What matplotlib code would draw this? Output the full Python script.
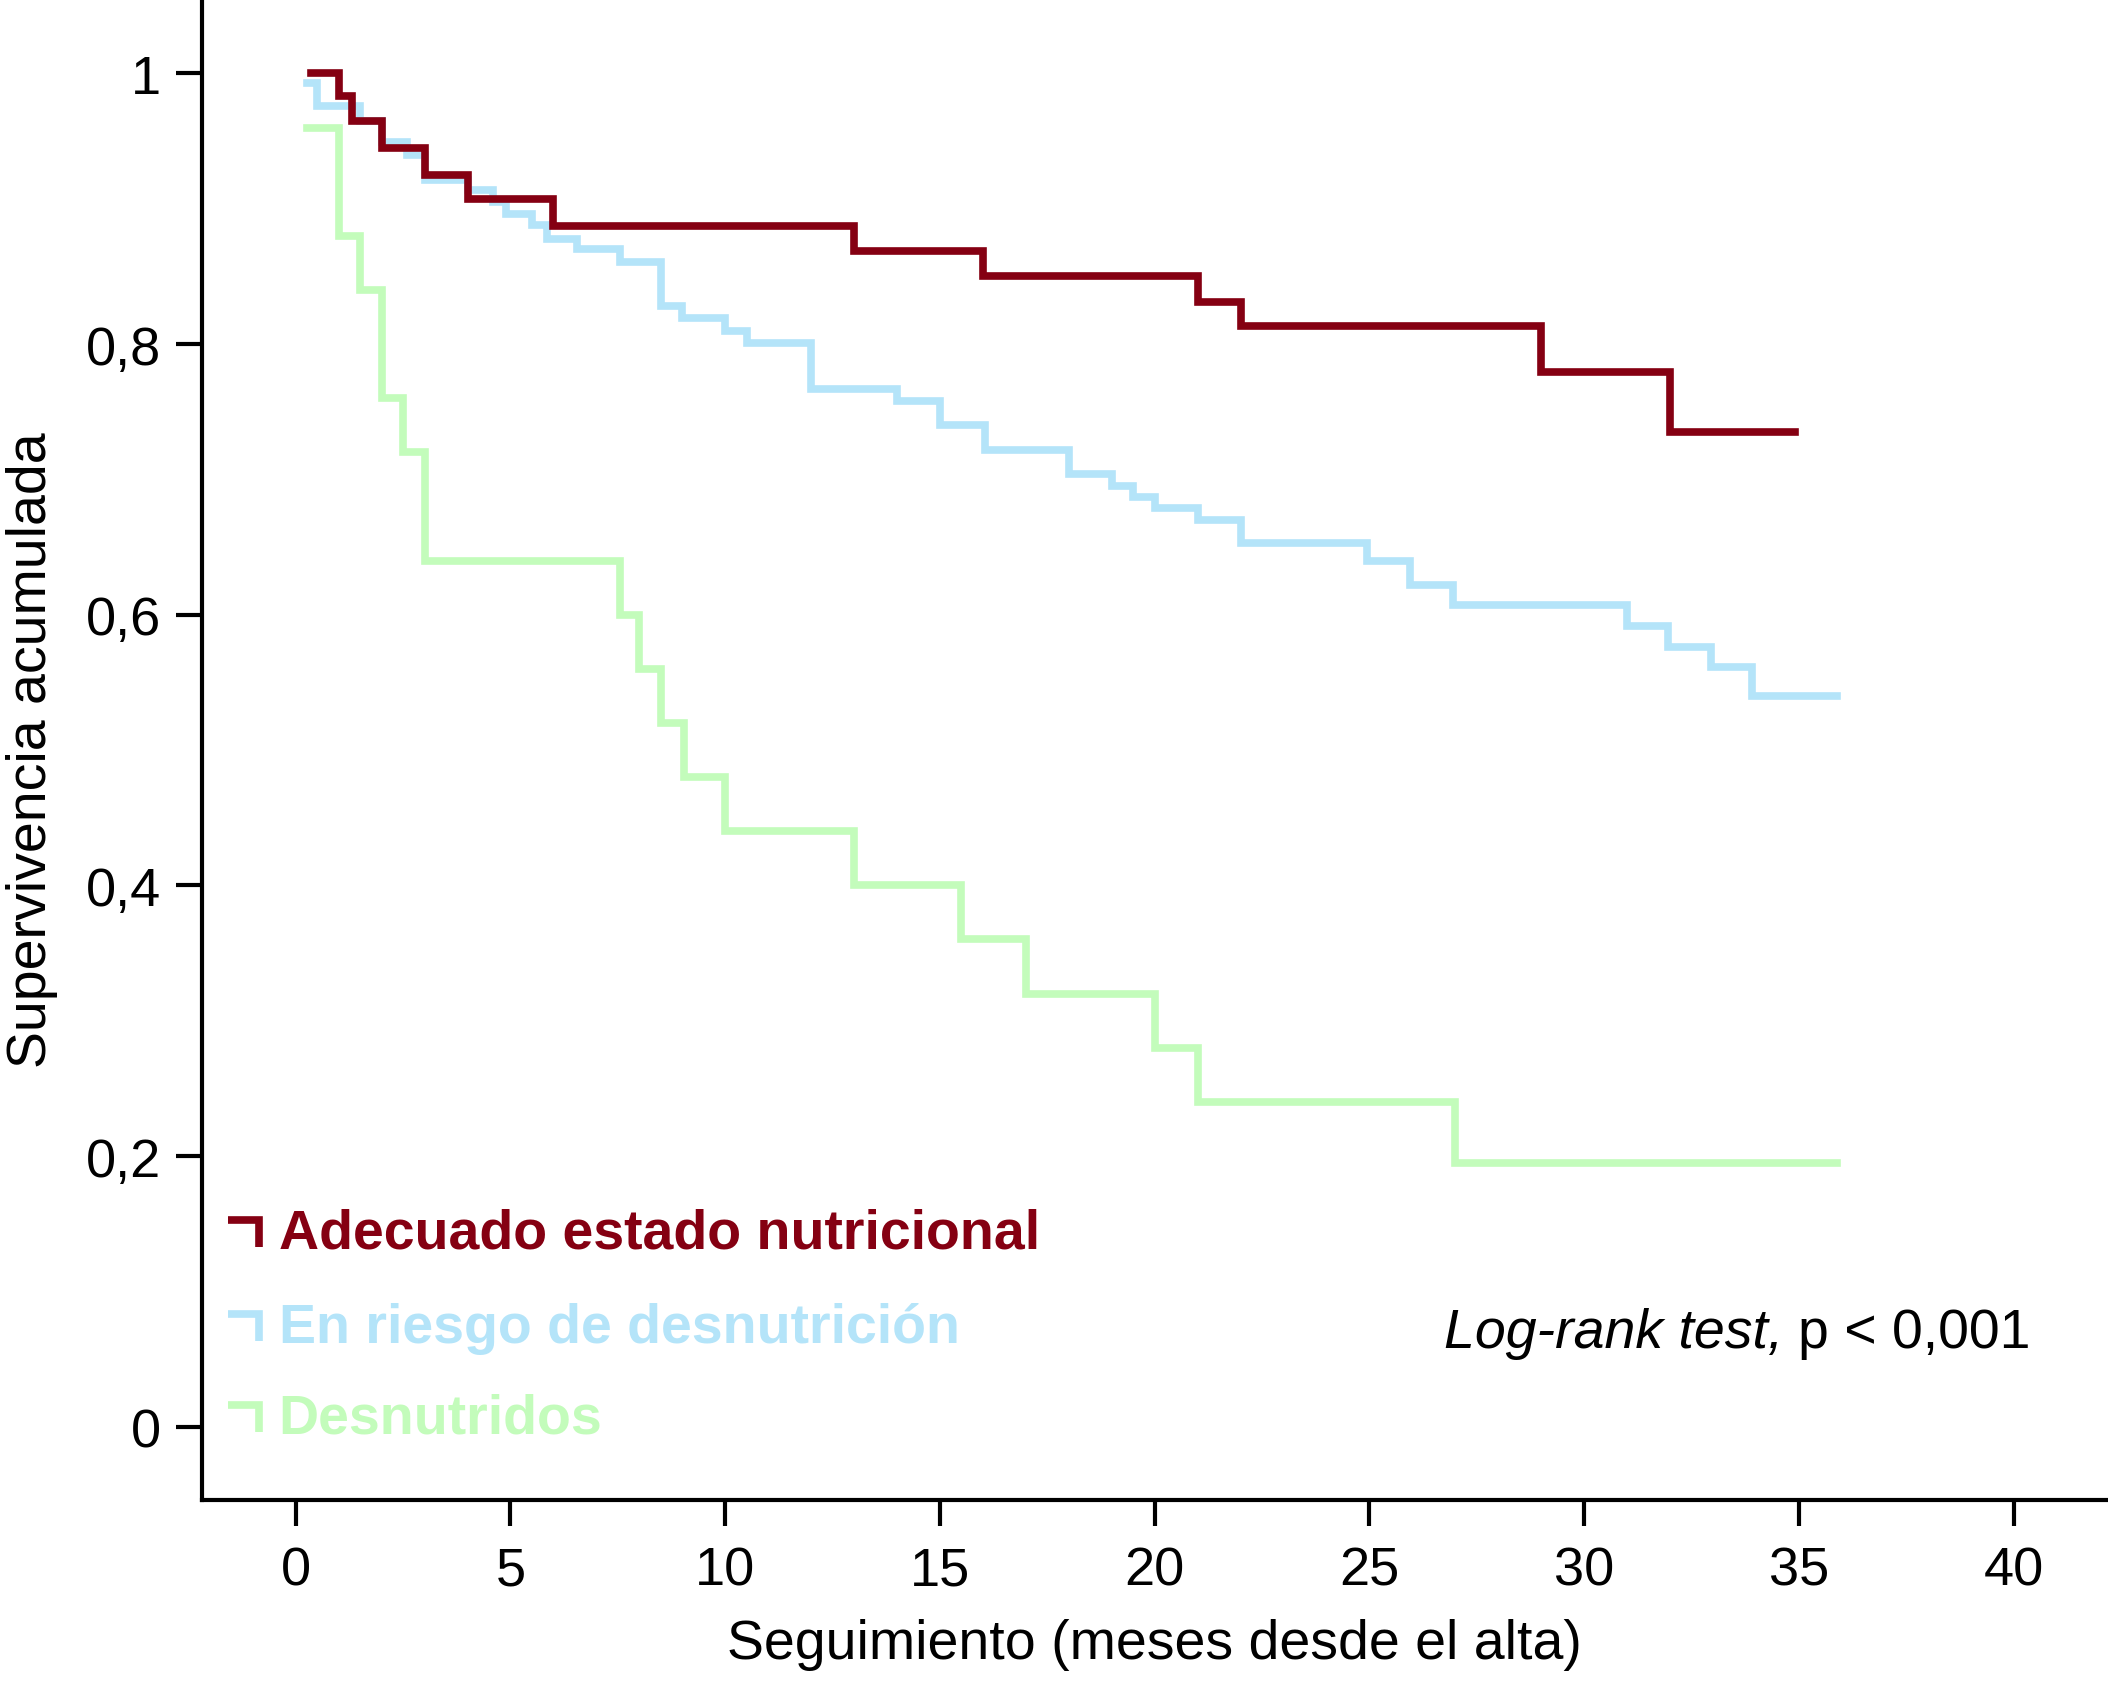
import numpy as np
import matplotlib
matplotlib.use("Agg")
import matplotlib.pyplot as plt

plt.rcParams['font.family'] = ['Liberation Sans', 'DejaVu Sans']

# Kaplan-Meier steps (time in months, cumulative survival)
t_adecuado = [0.35, 1.0, 1.3, 2.0, 3.0, 4.0, 6.0, 13.0, 16.0, 21.0, 22.0, 29.0, 32.0, 34.9]
s_adecuado = [1.0, 0.983, 0.965, 0.945, 0.925, 0.907, 0.887, 0.869, 0.850, 0.831, 0.813, 0.779, 0.735, 0.735]

t_riesgo = [0.25, 0.5, 1.5, 2.0, 2.6, 3.0, 4.0, 4.6, 4.9, 5.5, 5.85, 6.55, 7.55, 8.5, 9.0,
            10.0, 10.5, 12.0, 14.0, 15.0, 16.05, 18.0, 19.0, 19.5, 20.0, 21.0, 22.0,
            24.95, 25.95, 26.95, 31.0, 31.96, 32.96, 33.9, 35.9]
s_riesgo = [0.993, 0.976, 0.965, 0.949, 0.940, 0.921, 0.914, 0.905, 0.896, 0.888, 0.878, 0.870, 0.861, 0.828, 0.819,
            0.810, 0.801, 0.767, 0.758, 0.740, 0.722, 0.704, 0.695, 0.687, 0.679, 0.670, 0.653,
            0.640, 0.622, 0.607, 0.592, 0.576, 0.561, 0.540, 0.540]

t_desnut = [0.25, 1.0, 1.5, 2.0, 2.5, 3.0, 7.55, 8.0, 8.5, 9.05, 10.0, 13.0, 15.5, 17.0, 20.0, 21.0, 27.0, 35.9]
s_desnut = [0.96, 0.88, 0.84, 0.76, 0.72, 0.64, 0.60, 0.56, 0.52, 0.48, 0.44, 0.40, 0.36, 0.32, 0.28, 0.24, 0.195, 0.195]

groups = ["Adecuado estado nutricional", "En riesgo de desnutrición", "Desnutridos"]
colors = ["#850012", "#b4e4f9", "#c3fcbb"]

xticks = [0, 5, 10, 15, 20, 25, 30, 35, 40]
yticks = [0, 0.2, 0.4, 0.6, 0.8, 1.0]
ytick_labels = ["0", "0,2", "0,4", "0,6", "0,8", "1"]

fig = plt.figure(figsize=(21.08, 16.9), dpi=100)
ax = fig.add_axes([0.0957, 0.112, 0.9043, 0.888])

# draw order: green, blue, red on top
series = [(t_desnut, s_desnut, colors[2]),
          (t_riesgo, s_riesgo, colors[1]),
          (t_adecuado, s_adecuado, colors[0])]
for t, s, c in series:
    ax.step(t, s, where='post', color=c, lw=5.5, solid_joinstyle='miter')

ax.set_xlim(-2.19, 42.2)
ax.set_ylim(-0.054, 1.055)
ax.set_xticks(xticks)
ax.set_yticks(yticks)
ax.set_yticklabels(ytick_labels)
ax.tick_params(labelsize=39, width=3, length=19)
ax.tick_params(axis='x', pad=14)
ax.tick_params(axis='y', pad=10)
for side in ['top', 'right']:
    ax.spines[side].set_visible(False)
for side in ['left', 'bottom']:
    ax.spines[side].set_linewidth(3)

ax.set_xlabel("Seguimiento (meses desde el alta)", fontsize=40, labelpad=16)
ax.set_ylabel("Supervivencia acumulada", fontsize=40, labelpad=20)

# legend: step symbol plus coloured bold text
leg_y = [0.143, 0.073, 0.006]
for name, c, y in zip(groups, colors, leg_y):
    ax.plot([-1.58, -0.85, -0.85], [y + 0.010, y + 0.010, y - 0.010], color=c,
            lw=5.5, solid_joinstyle='miter', solid_capstyle='butt', clip_on=False)
    ax.text(-0.4, y, name, color=c, fontsize=40, fontweight='bold', va='center', ha='left')

p_txt = ax.text(40.4, 0.069, "p < 0,001", fontsize=40, ha='right', va='center')
ax.annotate("Log-rank test, ", xy=(0, 0.5), xycoords=p_txt, fontsize=40,
            fontstyle='italic', ha='right', va='center')

fig.savefig("out.png", dpi=100)
